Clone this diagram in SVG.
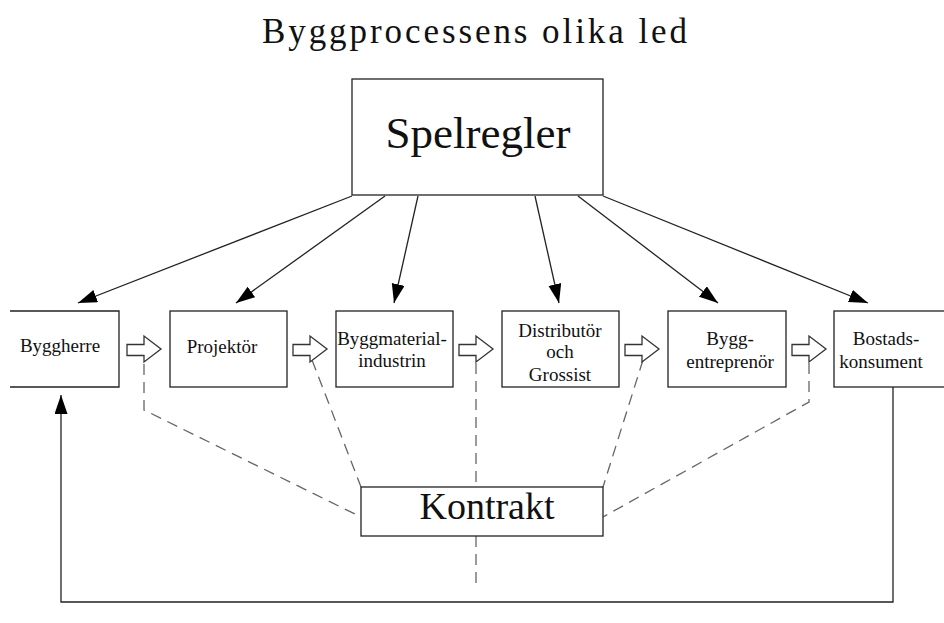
<svg xmlns="http://www.w3.org/2000/svg" width="944" height="623" viewBox="0 0 944 623">
<style>
  text { font-family: "Liberation Serif", "Times New Roman", serif; fill: #111; }
  .box { fill: #fff; stroke: #222; stroke-width: 1.3; }
  .small { font-size: 19px; text-anchor: middle; }
  .solid { fill: none; stroke: #222; stroke-width: 1.3; }
  .dash { fill: none; stroke: #666; stroke-width: 1.3; stroke-dasharray: 11 7; }
  .hollow { fill: #fff; stroke: #333; stroke-width: 1.3; }
</style>
<defs>
  <marker id="ah" markerUnits="userSpaceOnUse" markerWidth="20" markerHeight="14" refX="19" refY="6.5" orient="auto">
    <path d="M0,0 L19,6.5 L0,13 z" fill="#000"/>
  </marker>
  <polygon id="harrow" points="0,344.5 17,344.5 17,336 34,349 17,362 17,355.5 0,355.5"/>
</defs>
<rect width="944" height="623" fill="#fff"/>

<text x="262" y="43" font-size="35" textLength="425" lengthAdjust="spacing">Byggprocessens olika led</text>

<g id="connectors">
  <path class="solid" d="M352,196 L78,303" marker-end="url(#ah)"/>
  <path class="solid" d="M385,196 L236,303" marker-end="url(#ah)"/>
  <path class="solid" d="M418,196 L394,303" marker-end="url(#ah)"/>
  <path class="solid" d="M535,196 L559,303" marker-end="url(#ah)"/>
  <path class="solid" d="M578,196 L718,303" marker-end="url(#ah)"/>
  <path class="solid" d="M603,196 L868,303" marker-end="url(#ah)"/>
  <path class="solid" d="M893,387 V602 H61 V395" marker-end="url(#ah)"/>
  <path class="dash" d="M144,364 V410 L361,517"/>
  <path class="dash" d="M312,360 L361,487"/>
  <path class="dash" d="M476,363 V487"/>
  <path class="dash" d="M476,536 V586"/>
  <path class="dash" d="M643,360 L603,487"/>
  <path class="dash" d="M809,363 V402 L603,517"/>
  <use href="#harrow" class="hollow" x="127"/>
  <use href="#harrow" class="hollow" x="293"/>
  <use href="#harrow" class="hollow" x="459"/>
  <use href="#harrow" class="hollow" x="625"/>
  <use href="#harrow" class="hollow" x="792"/>
</g>

<g id="spelregler">
  <rect class="box" x="352" y="79" width="251" height="116"/>
  <text x="478" y="148" font-size="45" text-anchor="middle">Spelregler</text>
</g>

<g id="byggherre">
  <rect x="-10" y="311" width="129" height="76" fill="#fff"/>
  <path class="solid" d="M10,311 H119 V387 H10"/>
  <text class="small" x="60" y="352">Byggherre</text>
</g>

<g id="projektor">
  <rect class="box" x="170" y="311" width="117" height="76"/>
  <text class="small" x="222" y="353">Projektör</text>
</g>

<g id="byggmaterial">
  <rect class="box" x="336" y="311" width="117" height="76"/>
  <text class="small" x="392" y="345">Byggmaterial-</text>
  <text class="small" x="392" y="367">industrin</text>
</g>

<g id="distributor">
  <rect class="box" x="502" y="311" width="117" height="76"/>
  <text class="small" x="560" y="337">Distributör</text>
  <text class="small" x="560" y="358">och</text>
  <text class="small" x="560" y="381">Grossist</text>
</g>

<g id="byggentreprenor">
  <rect class="box" x="668" y="311" width="118" height="76"/>
  <text class="small" x="730" y="345">Bygg-</text>
  <text class="small" x="730" y="368">entreprenör</text>
</g>

<g id="bostadskonsument">
  <rect class="box" x="834" y="311" width="130" height="76"/>
  <text class="small" x="886" y="345">Bostads-</text>
  <text class="small" x="881" y="368">konsument</text>
</g>

<g id="kontrakt">
  <rect class="box" x="361" y="487" width="242" height="49"/>
  <text x="487" y="519" font-size="38" text-anchor="middle">Kontrakt</text>
</g>
</svg>
